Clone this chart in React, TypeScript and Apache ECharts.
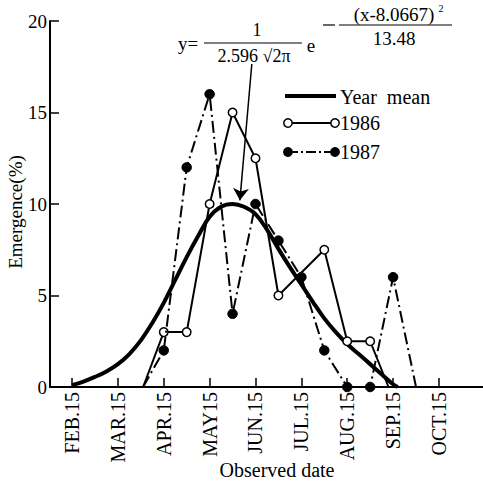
import React, { useEffect, useRef } from 'react';
import * as echarts from 'echarts';

// x values are months: 2 = FEB.15, 3 = MAR.15, ... 10 = OCT.15
const monthTicks = [2, 3, 4, 5, 6, 7, 8, 9, 10];
const monthLabels = ['FEB.15', 'MAR.15', 'APR.15', 'MAY15', 'JUN.15', 'JUL.15', 'AUG.15', 'SEP.15', 'OCT.15'];

const meanX = [2.0, 2.25, 2.5, 2.75, 3.0, 3.25, 3.5, 3.75, 4.0, 4.25, 4.5, 4.75, 5.0, 5.25, 5.5, 5.75, 6.0, 6.25, 6.5, 6.75, 7.0, 7.25, 7.5, 7.75, 8.0, 8.25, 8.5, 8.75, 9.0, 9.1];
const meanY = [0.1, 0.3, 0.55, 0.85, 1.25, 1.8, 2.55, 3.5, 4.6, 5.85, 7.1, 8.25, 9.3, 9.85, 10.0, 9.85, 9.45, 8.6, 7.55, 6.55, 5.6, 4.65, 3.75, 3.0, 2.35, 1.8, 1.25, 0.7, 0.15, 0];

const x1986 = [3.55, 4, 4.5, 5, 5.5, 6, 6.5, 7.5, 8, 8.5, 8.9];
const y1986 = [0, 3, 3, 10, 15, 12.5, 5, 7.5, 2.5, 2.5, 0];
const mark1986 = [false, true, true, true, true, true, true, true, true, true, false];

const x1987 = [3.55, 4, 4.5, 5, 5.5, 6, 6.5, 7, 7.5, 8, 8.5, 9, 9.5];
const y1987 = [0, 2, 12, 16, 4, 10, 8, 6, 2, 0, 0, 6, 0];
const mark1987 = [false, true, true, true, true, true, true, true, true, true, true, true, false];

// arrow from the formula to the mean curve peak (data coordinates)
const arrowFrom = [5.92, 17.65];
const arrowTo = [5.66, 10.2];

const FONT = '"Liberation Serif", "Times New Roman", serif';

function pts(xs: number[], ys: number[], marks: boolean[]) {
  return xs.map((x, i) => ({ value: [x, ys[i]], symbol: marks[i] ? 'circle' : 'none' }));
}

export default function App() {
  const ref = useRef<HTMLDivElement>(null);
  useEffect(() => {
    if (!ref.current) return;
    const chart = echarts.init(ref.current, null, { renderer: 'svg' });
    const txt = (text: string, x: number, y: number, size: number, align = 'center') => ({
      type: 'text',
      x,
      y,
      style: { text, fontSize: size, fontFamily: FONT, fill: '#000', align, verticalAlign: 'middle' },
    });
    const ln = (x1: number, y1: number, x2: number, y2: number, w: number, dash?: number[]) => ({
      type: 'line',
      shape: { x1, y1, x2, y2 },
      style: { stroke: '#000', lineWidth: w, lineDash: dash },
    });
    const circ = (cx: number, cy: number, fill: string) => ({
      type: 'circle',
      shape: { cx, cy, r: 4.2 },
      style: { fill, stroke: '#000', lineWidth: 1.5 },
    });
    chart.setOption({
      animation: false,
      grid: { left: 50, right: 0, top: 21, bottom: 94, containLabel: false, outerBoundsMode: 'none' },
      xAxis: {
        type: 'value',
        min: 1.52,
        max: 10.96,
        axisLine: { show: true, lineStyle: { color: '#000', width: 2 } },
        axisTick: { show: true, inside: true, length: 9, lineStyle: { color: '#000', width: 1.5 }, customValues: monthTicks },
        axisLabel: {
          show: true,
          rotate: 90,
          margin: 5,
          color: '#000',
          fontSize: 20,
          fontFamily: FONT,
          customValues: monthTicks,
          formatter: (v: number) => {
            const i = monthTicks.indexOf(Math.round(v));
            return i >= 0 ? monthLabels[i] : '';
          },
        },
        splitLine: { show: false },
        name: 'Observed date',
        nameLocation: 'middle',
        nameGap: 73,
        nameMoveOverlap: false,
        nameTextStyle: { color: '#000', fontSize: 20, fontFamily: FONT, padding: [0, 0, 0, 21] },
      },
      yAxis: {
        type: 'value',
        min: 0,
        max: 20,
        interval: 5,
        axisLine: { show: true, lineStyle: { color: '#000', width: 2 } },
        axisTick: { show: true, inside: true, length: 9, lineStyle: { color: '#000', width: 1.5 } },
        axisLabel: { color: '#000', fontSize: 19, fontFamily: FONT, margin: 3 },
        splitLine: { show: false },
        name: 'Emergence(%)',
        nameLocation: 'middle',
        nameGap: 25,
        nameMoveOverlap: false,
        nameTextStyle: { color: '#000', fontSize: 19, fontFamily: FONT, padding: [0, 16, 0, 0] },
      },
      series: [
        {
          name: 'Year mean',
          type: 'line',
          data: meanX.map((x, i) => [x, meanY[i]]),
          smooth: 0.4,
          showSymbol: false,
          lineStyle: { color: '#000', width: 4 },
          z: 2,
          markLine: {
            silent: true,
            symbol: ['none', 'arrow'],
            symbolSize: 12,
            label: { show: false },
            lineStyle: { color: '#000', width: 1.5, type: 'solid' },
            data: [[{ coord: arrowFrom }, { coord: arrowTo }]],
          },
        },
        {
          name: '1986',
          type: 'line',
          data: pts(x1986, y1986, mark1986),
          showAllSymbol: true,
          symbolSize: 8.5,
          lineStyle: { color: '#000', width: 2 },
          itemStyle: { color: '#fff', borderColor: '#000', borderWidth: 1.5 },
          z: 3,
        },
        {
          name: '1987',
          type: 'line',
          data: pts(x1987, y1987, mark1987),
          showAllSymbol: true,
          symbolSize: 9.5,
          lineStyle: { color: '#000', width: 2, type: [12, 4, 2, 4] },
          itemStyle: { color: '#000', borderColor: '#000', borderWidth: 1 },
          z: 4,
        },
      ],
      graphic: [
        // formula
        txt('y=', 178, 43, 19, 'left'),
        ln(204, 43, 302, 43, 1.2),
        txt('1', 257, 30, 18),
        txt('2.596 √2π', 254, 56, 18),
        txt('e', 311, 45, 19),
        ln(323, 25, 335, 25, 1.2),
        ln(339, 25, 452, 25, 1.2),
        txt('(x-8.0667)', 394, 14, 19),
        txt('2', 441, 8, 10),
        txt('13.48', 394, 38, 19),
        // legend
        ln(285, 96, 336, 96, 4),
        txt('Year  mean', 340, 97, 20, 'left'),
        ln(288, 123, 335, 123, 2),
        circ(288, 123, '#fff'),
        circ(335, 123, '#fff'),
        txt('1986', 340, 123, 20, 'left'),
        ln(288, 152, 335, 152, 2, [10, 3, 2, 3]),
        circ(288, 152, '#000'),
        circ(335, 152, '#000'),
        txt('1987', 340, 152, 20, 'left'),
      ],
    });
    return () => chart.dispose();
  }, []);
  return (
    <div
      ref={ref}
      style={{ position: 'absolute', left: 0, top: 0, width: 483, height: 481, background: '#fff' }}
    />
  );
}
